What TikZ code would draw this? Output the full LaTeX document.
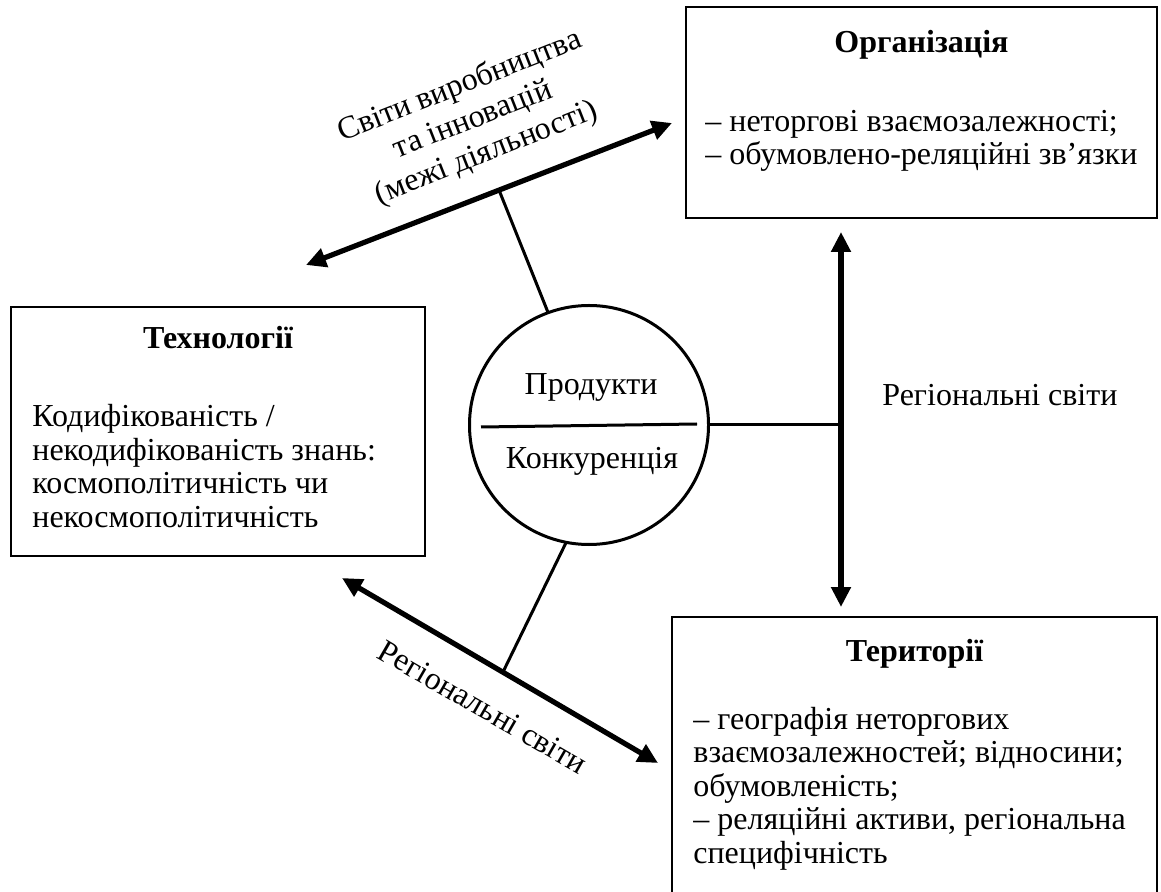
\documentclass[tikz,border=0pt]{standalone}
\usepackage{fontspec}
\setmainfont{Liberation Serif}
\usetikzlibrary{arrows.meta}
\begin{document}
\begin{tikzpicture}[x=0.5pt,y=-0.5pt,
  font=\fontsize{16pt}{16.7pt}\selectfont,
  box/.style={draw, line width=1pt, inner sep=0pt, outer sep=0pt, anchor=north west},
  bigarrow/.style={line width=2.6pt, {Triangle[length=10pt,width=9.5pt]}-{Triangle[length=10pt,width=9.5pt]}},
  link/.style={line width=1.5pt},
  title/.style={font=\fontsize{16pt}{16.7pt}\selectfont\bfseries, anchor=base, inner sep=0pt},
  body/.style={align=left, anchor=base west, inner sep=0pt}]
\useasboundingbox (0,0) rectangle (1161,892);

% boxes
\node[box, minimum width=235.5pt, minimum height=105.5pt] (org) at (686,7) {};
\node[box, minimum width=207pt, minimum height=124.5pt] (tech) at (11,307) {};
\node[box, minimum width=242.5pt, minimum height=150pt] (terr) at (672,617) {};

% texts (base anchor = baseline of the last line)
\node[title] (orgt) at (921.5,53) {Організація};
\node[body] (orgb) at (705,165) {– неторгові взаємозалежності;\\– обумовлено-реляційні зв’язки};

\node[title] (techt) at (218,349) {Технології};
\node[body] (techb) at (32,527) {Кодифікованість /\\некодифікованість знань:\\космополітичність чи\\некосмополітичність};

\node[title] (terrt) at (914.5,661) {Території};
\node[body] (terrb) at (693,863) {– географія неторгових\\взаємозалежностей; відносини;\\обумовленість;\\– реляційні активи, регіональна\\специфічність};

% central circle
\node[draw, circle, line width=1.5pt, minimum size=119.5pt, inner sep=0pt, outer sep=0pt] (c) at (589,425) {};
\coordinate (dl) at (481,427);
\coordinate (dr) at (697,424);
\draw[link] (dl) -- (dr);
\node[anchor=base, inner sep=0pt] (prod) at (591,395) {Продукти};
\node[anchor=base, inner sep=0pt] (konk) at (592,469) {Конкуренція};

% vertical arrow
\coordinate (vt) at (841,232);
\coordinate (vb) at (841,607);
\draw[bigarrow] (vt) -- (vb);
\draw[link] (c.east) -- (c.east -| vt);
\node[anchor=base west, inner sep=0pt] (rs1) at (882,406) {Регіональні світи};

% top diagonal arrow
\coordinate (tl) at (306,265);
\coordinate (tr) at (672,123);
\coordinate (ta) at (499,190);
\draw[bigarrow] (tl) -- (tr);
\draw[link] (c.110) -- (ta);
\node[rotate=21.5, align=center, inner sep=0pt, font=\fontsize{16pt}{18pt}\selectfont] (sv) at (473,120) {Світи виробництва\\та інновацій\\(межі діяльності)};

% bottom diagonal arrow
\coordinate (bl) at (342,578);
\coordinate (br) at (658,763);
\coordinate (ba) at (503,672);
\draw[bigarrow] (bl) -- (br);
\draw[link] (c.-101) -- (ba);
\node[rotate=-30, inner sep=0pt] (rs2) at (483,707) {Регіональні світи};
\end{tikzpicture}
\end{document}
